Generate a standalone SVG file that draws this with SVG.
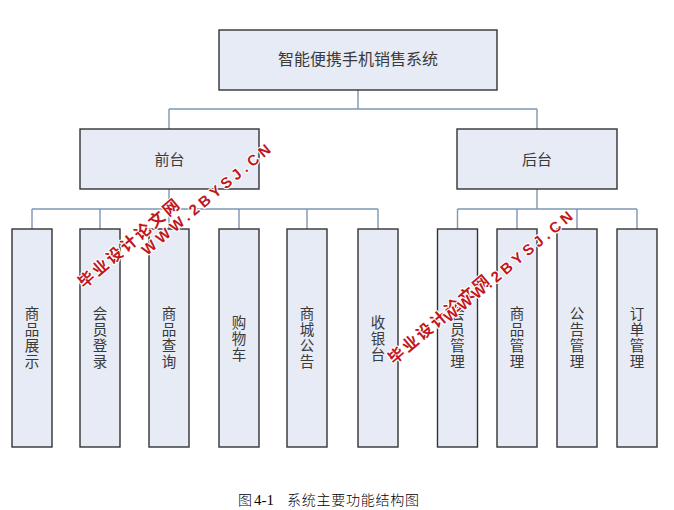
<svg xmlns="http://www.w3.org/2000/svg" width="674" height="510" viewBox="0 0 674 510">
<style>
.box{fill:#e6ebf5;stroke:#333;stroke-width:1.4}
.lbl{font-family:"Noto Sans CJK SC",sans-serif;font-size:15px;fill:#3a3a3a;text-anchor:middle}
.vl{font-family:"Noto Sans CJK SC",sans-serif;font-size:14.5px;fill:#3a3a3a;text-anchor:middle}
.con{fill:none;stroke:#7d98b3;stroke-width:1.4}
.wm{font-family:"Liberation Sans","Noto Sans CJK SC",sans-serif;font-weight:bold;fill:#c1161c;stroke:#fff;stroke-width:2.2;paint-order:stroke;stroke-linejoin:round}
.cap{font-family:"Liberation Serif","Noto Sans CJK SC",serif;font-size:14px;font-weight:300;fill:#000}
</style>
<rect width="674" height="510" fill="#fff"/>
<g id="connectors">
<path class="con" d="M358 90V109M169 109H537M169 109V129M537 109V129"/>
<path class="con" d="M169 189V209M32 209H378M32 209V229M100 209V229M169 209V229M239 209V229M307 209V229M378 209V229"/>
<path class="con" d="M537 189V209M457.5 209H637M457.5 209V229M517 209V229M577 209V229M637 209V229"/>
</g>
<g id="root"><rect class="box" x="219" y="30" width="278" height="60"/><text class="lbl" x="358" y="65" style="font-size:16px">智能便携手机销售系统</text></g>
<g id="front"><rect class="box" x="80" y="129" width="179" height="60"/><text class="lbl" x="169.5" y="165">前台</text></g>
<g id="back"><rect class="box" x="457" y="129" width="160" height="60"/><text class="lbl" x="537" y="165">后台</text></g>
<g id="n1"><rect class="box" x="12" y="229" width="40" height="218"/><text class="vl"><tspan x="32" y="319">商</tspan><tspan x="32" dy="16">品</tspan><tspan x="32" dy="16">展</tspan><tspan x="32" dy="16">示</tspan></text></g>
<g id="n2"><rect class="box" x="80" y="229" width="40" height="218"/><text class="vl"><tspan x="100" y="319">会</tspan><tspan x="100" dy="16">员</tspan><tspan x="100" dy="16">登</tspan><tspan x="100" dy="16">录</tspan></text></g>
<g id="n3"><rect class="box" x="149" y="229" width="40" height="218"/><text class="vl"><tspan x="169" y="319">商</tspan><tspan x="169" dy="16">品</tspan><tspan x="169" dy="16">查</tspan><tspan x="169" dy="16">询</tspan></text></g>
<g id="n4"><rect class="box" x="219" y="229" width="40" height="218"/><text class="vl"><tspan x="239" y="328">购</tspan><tspan x="239" dy="16">物</tspan><tspan x="239" dy="16">车</tspan></text></g>
<g id="n5"><rect class="box" x="287" y="229" width="40" height="218"/><text class="vl"><tspan x="307" y="319">商</tspan><tspan x="307" dy="16">城</tspan><tspan x="307" dy="16">公</tspan><tspan x="307" dy="16">告</tspan></text></g>
<g id="n6"><rect class="box" x="358" y="229" width="40" height="218"/><text class="vl"><tspan x="378" y="328">收</tspan><tspan x="378" dy="16">银</tspan><tspan x="378" dy="16">台</tspan></text></g>
<g id="n7"><rect class="box" x="437.5" y="229" width="40" height="218"/><text class="vl"><tspan x="457.5" y="319">会</tspan><tspan x="457.5" dy="16">员</tspan><tspan x="457.5" dy="16">管</tspan><tspan x="457.5" dy="16">理</tspan></text></g>
<g id="n8"><rect class="box" x="497" y="229" width="40" height="218"/><text class="vl"><tspan x="517" y="319">商</tspan><tspan x="517" dy="16">品</tspan><tspan x="517" dy="16">管</tspan><tspan x="517" dy="16">理</tspan></text></g>
<g id="n9"><rect class="box" x="557" y="229" width="40" height="218"/><text class="vl"><tspan x="577" y="319">公</tspan><tspan x="577" dy="16">告</tspan><tspan x="577" dy="16">管</tspan><tspan x="577" dy="16">理</tspan></text></g>
<g id="n10"><rect class="box" x="617" y="229" width="40" height="218"/><text class="vl"><tspan x="637" y="319">订</tspan><tspan x="637" dy="16">单</tspan><tspan x="637" dy="16">管</tspan><tspan x="637" dy="16">理</tspan></text></g>
<g id="caption">
<text class="cap" x="238" y="505">图</text>
<text class="cap" x="254" y="505" textLength="20" lengthAdjust="spacingAndGlyphs">4-1</text>
<text class="cap" x="287" y="505" textLength="132">系统主要功能结构图</text>
</g>
<g id="watermark1">
<text class="wm" transform="translate(84 289) rotate(-40.5)" font-size="16" textLength="127">毕业设计论文网</text>
<text class="wm" transform="translate(147 256) rotate(-40)" font-size="15" textLength="163">WWW.2BYSJ.CN</text>
</g>
<g id="watermark2">
<text class="wm" transform="translate(394 365) rotate(-40.5)" font-size="16" textLength="127">毕业设计论文网</text>
<text class="wm" transform="translate(449 323) rotate(-40)" font-size="15" textLength="163">WWW.2BYSJ.CN</text>
</g>
</svg>
